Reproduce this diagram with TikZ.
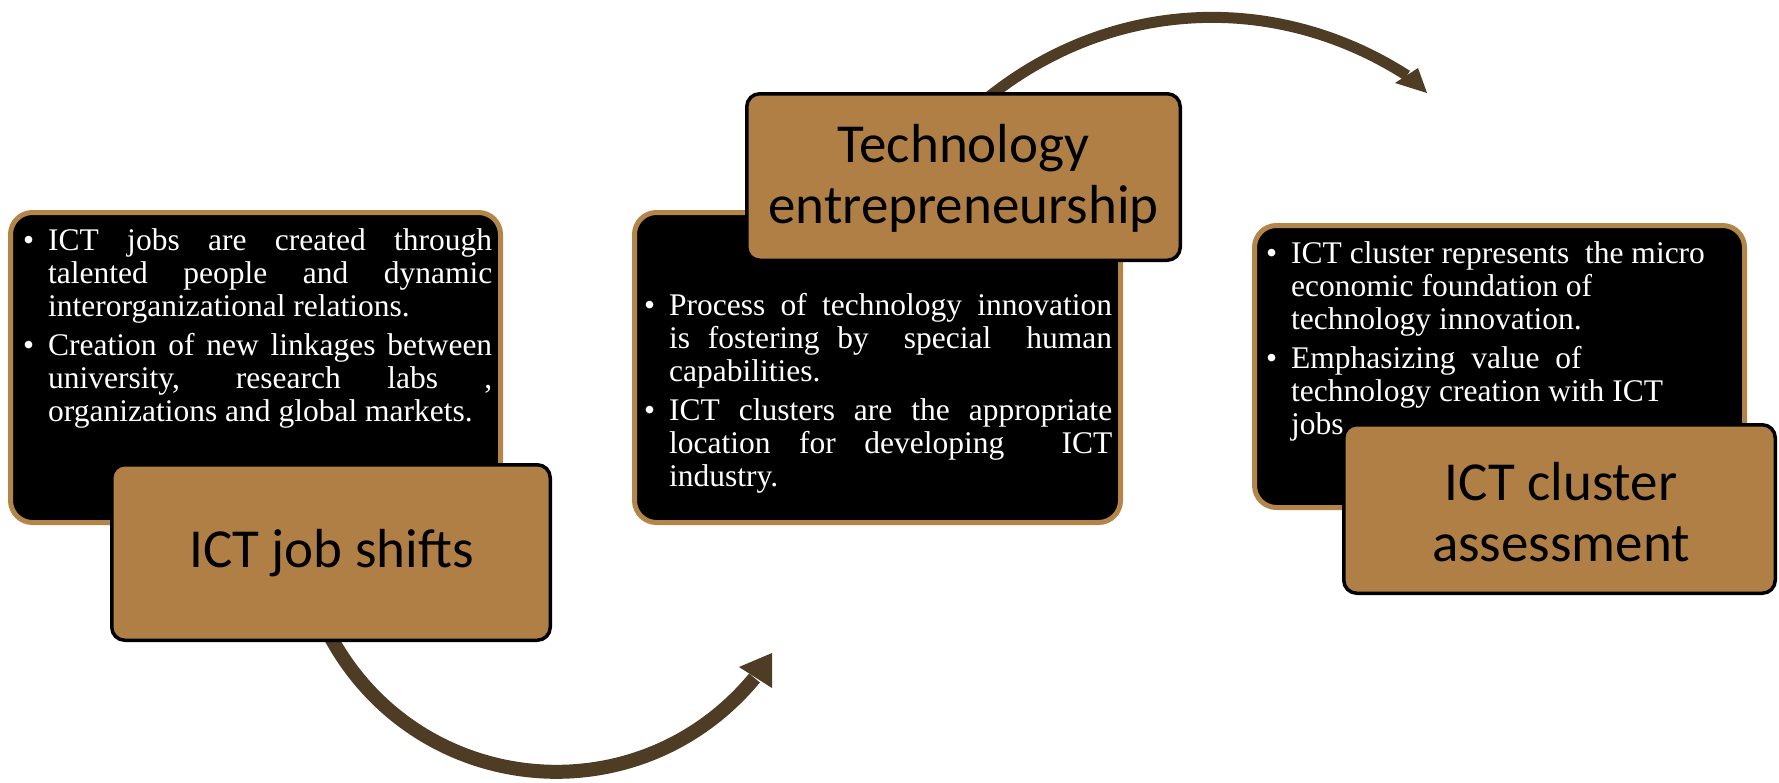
\documentclass[tikz,border=0pt]{standalone}
\usepackage{fontspec}
\setmainfont{Liberation Serif}
\newfontfamily\titlefont{Carlito}
\definecolor{tanc}{HTML}{B07F45}
\definecolor{tanborder}{HTML}{B38548}
\definecolor{arrowc}{HTML}{4E3C24}
\newcommand{\jline}[1]{\makebox[\linewidth][s]{#1}}
\newcommand{\bul}{\leavevmode\llap{\makebox[25pt][l]{\textbullet}}}
\tikzset{
  blackbox/.style={draw=tanborder, line width=5pt, fill=black, rounded corners=22pt, inner sep=0pt, outer sep=0pt},
  tanbox/.style={draw=black, line width=3.5pt, fill=tanc, rounded corners=13pt, inner sep=0pt, outer sep=0pt},
  bodytext/.style={text=white, inner sep=0pt, anchor=base west, font=\fontsize{31.5}{33}\selectfont},
  titletext/.style={text=black, inner sep=0pt, anchor=base, font=\titlefont\fontsize{55}{61.5}\selectfont},
  flow/.style={draw=arrowc, line cap=butt},
  headc/.style={fill=arrowc}
}
\begin{document}
\begin{tikzpicture}[x=1pt,y=-1pt]
\useasboundingbox (0,0) rectangle (1779,782);
% arrows (behind boxes)
\coordinate (a1s) at (330,636);
\coordinate (a1e) at (754.5,678);
\draw[flow, line width=14pt] (a1s) to[bend right=56, looseness=1.1] (a1e);
\fill[headc] (739,667) -- (772,653) -- (772,688) -- cycle;
\coordinate (a2s) at (985,100);
\coordinate (a2e) at (1407,75.5);
\draw[flow, line width=11pt] (a2s) to[bend left=36, looseness=0.96] (a2e);
\fill[headc] (1395,83) -- (1418,68) -- (1427,93) -- cycle;
% boxes
\node[blackbox, minimum width=490pt, minimum height=310pt] (lb) at (255.5,367.5) {};
\node[tanbox, minimum width=438.5pt, minimum height=175.5pt] (lt) at (331,552.5) {};
\node[blackbox, minimum width=486pt, minimum height=310pt] (mb) at (877.5,367.5) {};
\node[tanbox, minimum width=433.5pt, minimum height=166.5pt] (mt) at (963.5,177) {};
\node[blackbox, minimum width=490pt, minimum height=282pt] (rb) at (1499.5,366.5) {};
% left text
\node[bodytext] (ltx) at (48,250) {\begin{minipage}[t]{444pt}
\bul\jline{ICT jobs are created through}\\
\jline{talented people and dynamic}\\
interorganizational relations.\\[6.5pt]
\bul\jline{Creation of new linkages between}\\
\jline{university, research labs ,}\\
organizations and global markets.
\end{minipage}};
% middle text
\node[bodytext] (mtx) at (669,315) {\begin{minipage}[t]{443pt}
\bul\jline{Process of technology innovation}\\
\jline{is fostering by \ special \ human}\\
capabilities.\\[6.5pt]
\bul\jline{ICT clusters are the appropriate}\\
\jline{location for developing \ ICT}\\
industry.
\end{minipage}};
% right text
\node[bodytext] (rtx) at (1291,263) {\begin{minipage}[t]{450pt}
\bul ICT cluster represents \ the micro\\
economic foundation of\\
technology innovation.\\[6pt]
\bul Emphasizing \ value \ of\\
technology creation with ICT\\
jobs.
\end{minipage}};
\node[tanbox, minimum width=431.5pt, minimum height=168.5pt] (rt) at (1559.5,509) {};
% titles
\node[titletext] (lttl) at (331.5,567) {ICT job shifts};
\node[titletext] (mttl) at (963.5,162) {\begin{minipage}[t]{500pt}\centering Technology\\entrepreneurship\end{minipage}};
\node[titletext] (rttl) at (1561,500) {\begin{minipage}[t]{500pt}\centering ICT cluster\\assessment\end{minipage}};
\end{tikzpicture}
\end{document}
